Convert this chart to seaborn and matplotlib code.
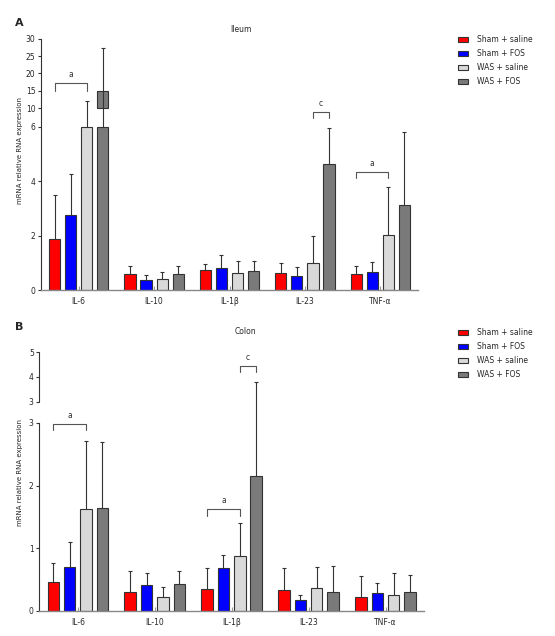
import numpy as np
import pandas as pd
import matplotlib
matplotlib.use("Agg")
import matplotlib.pyplot as plt
import seaborn as sns

cytokines = ["IL-6", "IL-10", "IL-1β", "IL-23", "TNF-α"]
groups = ["Sham + saline", "Sham + FOS", "WAS + saline", "WAS + FOS"]
colors = ["#ff0000", "#0000ff", "#d9d9d9", "#7a7a7a"]

# ileum: mean per group, in cytokine order
ileum_sham_saline = [1.88, 0.58, 0.73, 0.63, 0.58]
ileum_sham_fos = [2.76, 0.35, 0.82, 0.50, 0.65]
ileum_was_saline = [7.0, 0.42, 0.64, 1.01, 2.03]
ileum_was_fos = [15.0, 0.58, 0.71, 4.65, 3.12]
# ileum: SD
ileum_sham_saline_sd = [1.61, 0.29, 0.22, 0.38, 0.29]
ileum_sham_fos_sd = [1.49, 0.20, 0.48, 0.35, 0.38]
ileum_was_saline_sd = [5.0, 0.24, 0.42, 0.97, 1.74]
ileum_was_fos_sd = [12.2, 0.30, 0.35, 1.29, 2.70]

# colon
colon_sham_saline = [0.47, 0.30, 0.35, 0.33, 0.22]
colon_sham_fos = [0.71, 0.42, 0.69, 0.18, 0.28]
colon_was_saline = [1.62, 0.22, 0.87, 0.36, 0.25]
colon_was_fos = [1.65, 0.43, 2.16, 0.30, 0.30]
colon_sham_saline_sd = [0.29, 0.34, 0.34, 0.35, 0.34]
colon_sham_fos_sd = [0.39, 0.18, 0.21, 0.08, 0.16]
colon_was_saline_sd = [1.10, 0.17, 0.54, 0.34, 0.36]
colon_was_fos_sd = [1.05, 0.21, 1.64, 0.42, 0.28]

# significance brackets: (cytokine, from group, to group, level, end, letter)
ileum_sig = [(0, 0, 2, 17.2, 15.0, "a"), (3, 2, 3, 9.14, 7.86, "c"), (4, 0, 2, 4.35, 4.13, "a")]
colon_sig = [(0, 0, 2, 2.98, 2.88, "a"), (2, 0, 2, 1.62, 1.52, "a"), (2, 2, 3, 4.44, 4.20, "c")]

ileum_ticks = [0, 2, 4, 6, 10, 15, 20, 25, 30]
colon_ticks = [0, 1, 2, 3, 3 + 1e-6, 4, 5]
colon_ticklabels = ["0", "1", "2", "3", "3", "4", "5"]

sns.set_style("ticks")
plt.rcParams["font.family"] = ["DejaVu Sans"]

EDGE = "#333333"


def make_scale(lo, hi, gap, k):
    span = max(hi - lo, 1e-12)

    def fwd(y):
        y = np.asarray(y, dtype=float)
        mid = lo + gap * np.clip((y - lo) / span, 0, 1)
        return np.where(y <= lo, y, np.where(y <= hi, mid, lo + gap + (y - hi) * k))

    def inv(u):
        u = np.asarray(u, dtype=float)
        mid = lo + np.clip((u - lo) / gap, 0, 1) * (hi - lo)
        return np.where(u <= lo, u, np.where(u <= lo + gap, mid, hi + (u - lo - gap) / k))

    return fwd, inv


def draw_panel(fig, ax, values, sds, lo, hi, gap, k, ymax, ticks, labels, sig, leg_y):
    rows = []
    for g, vals in zip(groups, values):
        for c, v in zip(cytokines, vals):
            rows.append({"cytokine": c, "value": v, "group": g})
    df = pd.DataFrame(rows)

    sns.barplot(data=df, x="cytokine", y="value", hue="group", order=cytokines,
                hue_order=groups, palette=colors, saturation=1, width=0.85, gap=0.3,
                errorbar=None, edgecolor=EDGE, linewidth=0.8, ax=ax)
    bars = list(ax.containers[:4])
    fwd, inv = make_scale(lo, hi, gap, k)
    ax.set_yscale("function", functions=(fwd, inv))

    centers = {}
    for h, bc in enumerate(bars):
        for c, bar in enumerate(bc):
            x = bar.get_x() + bar.get_width() / 2
            centers[(c, h)] = x
            v = values[h][c]
            if v > lo:
                bar.set_height(lo)
                if v > hi:
                    ax.bar(x, v - hi, bottom=hi, width=bar.get_width(), color=colors[h],
                           edgecolor=EDGE, linewidth=0.8)
            top = bar.get_height()
            up = v + sds[h][c]
            ax.vlines(x, top, up, color=EDGE, lw=0.8, zorder=3)
            ax.plot([x], [up], marker="_", ms=3.5, mew=0.8, color=EDGE, zorder=3)

    for c, h1, h2, y, y0, lab in sig:
        x1, x2 = centers[(c, h1)], centers[(c, h2)]
        ax.plot([x1, x1, x2, x2], [y0, y, y, y0], color="#555555", lw=0.8, clip_on=False)
        ax.annotate(lab, ((x1 + x2) / 2, y), xytext=(0, 3), textcoords="offset points",
                    ha="center", va="bottom", fontsize=5.5, color="#333333")

    ax.set_xlim(-0.5, 4.5)
    ax.set_ylim(0, ymax)
    ax.set_yticks(ticks, labels=labels)
    ax.yaxis.set_minor_locator(matplotlib.ticker.NullLocator())
    ax.set_xlabel("")
    ax.set_ylabel("")
    sns.despine(ax=ax)
    ax.tick_params(axis="y", length=2.5, width=0.8, pad=1.5, labelsize=5.5, color=EDGE)
    ax.tick_params(axis="x", direction="in", length=3, width=0.8, color="#999999",
                   pad=5, labelsize=5.5)
    ax.spines["left"].set_color(EDGE)
    ax.spines["left"].set_linewidth(0.8)
    ax.spines["bottom"].set_color("#888888")
    ax.spines["bottom"].set_linewidth(1.0)
    if hi == lo:
        # broken axis: two spine pieces
        ax.spines["left"].set_bounds(0, lo)
        ax.plot([0, 0], [ticks[4], ymax], transform=ax.get_yaxis_transform(),
                color=EDGE, lw=0.8, clip_on=False)

    sns.move_legend(ax, "upper left", bbox_to_anchor=(0.825, leg_y),
                    bbox_transform=fig.transFigure, frameon=False, title=None,
                    fontsize=5.5, handlelength=1.3, handleheight=0.65,
                    handletextpad=1.2, labelspacing=0.65, borderpad=0, borderaxespad=0)


fig = plt.figure(figsize=(5.55, 6.36), dpi=100)
ax_a = fig.add_axes([41 / 555, 346 / 636, 377 / 555, 251.3 / 636])
ax_b = fig.add_axes([39.3 / 555, 25 / 636, 384.7 / 555, 259 / 636])

draw_panel(fig, ax_a,
           [ileum_sham_saline, ileum_sham_fos, ileum_was_saline, ileum_was_fos],
           [ileum_sham_saline_sd, ileum_sham_fos_sd, ileum_was_saline_sd, ileum_was_fos_sd],
           6, 10, 18.7 / 27.2, 3.47 / 27.2, 30, ileum_ticks,
           [str(t) for t in ileum_ticks], ileum_sig, 1 - 35 / 636)
draw_panel(fig, ax_b,
           [colon_sham_saline, colon_sham_fos, colon_was_saline, colon_was_fos],
           [colon_sham_saline_sd, colon_sham_fos_sd, colon_was_saline_sd, colon_was_fos_sd],
           3, 3, 21 / 62.7, 25 / 62.7, 5, colon_ticks, colon_ticklabels, colon_sig,
           1 - 328 / 636)

fig.text(19 / 555, 1 - 23 / 636, "A", fontsize=8, fontweight="bold", ha="center", va="center")
fig.text(19 / 555, 1 - 327 / 636, "B", fontsize=8, fontweight="bold", ha="center", va="center")
fig.text(241 / 555, 1 - 29 / 636, "Ileum", fontsize=5.5, ha="center", va="center")
fig.text(245 / 555, 1 - 331 / 636, "Colon", fontsize=5.5, ha="center", va="center")
fig.text(20 / 555, 1 - 151 / 636, "mRNA relative RNA expression", rotation=90,
         fontsize=5, ha="center", va="center")
fig.text(20 / 555, 1 - 473 / 636, "mRNA relative RNA expression", rotation=90,
         fontsize=5, ha="center", va="center")

fig.savefig("out.png", dpi=100)
